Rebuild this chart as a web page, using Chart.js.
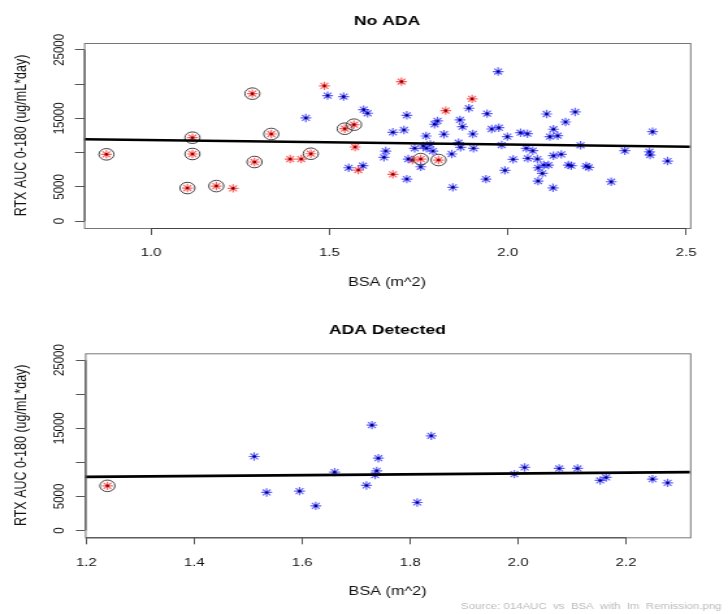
<!DOCTYPE html>
<html>
<head>
<meta charset="utf-8">
<script src="https://cdn.jsdelivr.net/npm/chart.js@4.4.0/dist/chart.umd.min.js"></script>
<style>
  body { margin: 0; background: #fff; }
</style>
</head>
<body>
<!-- drawn at 560 wide, shown at 728: the source image is stretched sideways -->
<canvas id="chartNoAda" width="560" height="307" style="width:728px;height:307px"></canvas>
<canvas id="chartAda" width="560" height="307" style="width:728px;height:307px"></canvas>
<script>
  // ---------------- data: No ADA ----------------
  const noAdaBlueBSA = [1.495, 1.540, 1.434, 1.596, 1.607, 1.678, 1.658, 1.653, 1.554, 1.594,
    1.973, 1.891, 1.942, 1.717, 1.866, 1.803, 1.795, 1.709, 1.873, 1.771,
    1.821, 1.902, 1.955, 1.975, 1.999, 2.036, 2.055, 2.109, 2.189, 2.162,
    2.128, 2.118, 2.140, 2.406, 1.739, 1.763, 1.783, 1.772, 1.790, 1.862,
    1.868, 1.904, 1.983, 1.843, 2.052, 2.070, 2.204, 2.328, 2.397, 2.399,
    1.721, 1.756, 1.717, 1.846, 1.939, 1.992, 2.015, 2.056, 2.083, 2.128,
    2.150, 2.085, 2.101, 2.114, 2.097, 2.085, 2.127, 2.170, 2.178, 2.220,
    2.227, 2.290, 2.448];
  const noAdaBlueAUC = [18320, 18170, 15060, 16270, 15750, 12970, 10230, 9310, 7790, 8090,
    21830, 16480, 15690, 15450, 14770, 14620, 14140, 13300, 13790, 12430,
    12680, 12720, 13450, 13640, 12330, 12910, 12760, 15640, 15940, 14470,
    13410, 12330, 12470, 13060, 10630, 10970, 11210, 10630, 10230, 11450,
    10780, 10630, 11110, 9800, 10630, 10280, 11070, 10280, 10130, 9650,
    9060, 7940, 6140, 4930, 6140, 7410, 9020, 9170, 9060, 9550,
    9750, 7790, 8190, 8190, 6970, 5850, 4870, 8190, 8090, 8040,
    7850, 5750, 8770];
  const noAdaRedBSA = [0.875, 1.116, 1.116, 1.102, 1.183, 1.284, 1.337, 1.290, 1.448, 1.543,
    1.569, 1.756, 1.806, 1.230, 1.390, 1.421, 1.486, 1.572, 1.581, 1.678,
    1.702, 1.900, 1.826, 1.733];
  const noAdaRedAUC = [9750, 12180, 9800, 4830, 5120, 18610, 12720, 8630, 9840, 13490,
    14080, 9060, 8920, 4780, 9060, 9060, 19740, 10820, 7460, 6830,
    20370, 17840, 16130, 8920];
  const noAdaRedCircled = [1, 1, 1, 1, 1, 1, 1, 1, 1, 1,
    1, 1, 1, 0, 0, 0, 0, 0, 0, 0,
    0, 0, 0, 0];
  const noAdaFitBSA = [0.812, 2.511];
  const noAdaFitAUC = [11950, 10860];
  const noAdaXTicks = [1.0, 1.5, 2.0, 2.5];

  // ---------------- data: ADA Detected ----------------
  const adaBlueBSA = [1.511, 1.534, 1.595, 1.625, 1.660, 1.729, 1.741, 1.738, 1.735, 1.719,
    1.839, 1.813, 1.993, 2.012, 2.076, 2.110, 2.152, 2.163, 2.249, 2.277];
  const adaBlueAUC = [10860, 5580, 5770, 3610, 8560, 15460, 10610, 8750, 8120, 6610,
    13890, 4110, 8270, 9250, 9100, 9100, 7340, 7780, 7530, 6990];
  const adaRedBSA = [1.239];
  const adaRedAUC = [6550];
  const adaRedCircled = [1];
  const adaFitBSA = [1.1975, 2.3185];
  const adaFitAUC = [7870, 8560];
  const adaXTicks = [1.2, 1.4, 1.6, 1.8, 2.0, 2.2];

  const yTicks = [0, 5000, 10000, 15000, 20000, 25000];
  const yTickLabels = ['0', '5000', '', '15000', '', '25000'];

  const FONT = "'Liberation Sans', Arial, sans-serif";

  function pts(xs, ys) {
    return xs.map((x, i) => ({ x: x, y: ys[i] }));
  }

  // axes, box, titles drawn R style
  const rAxes = {
    id: 'rAxes',
    afterDraw(chart, args, o) {
      const { ctx, chartArea: { top, bottom, left, right } } = chart;
      const xs = chart.scales.x, ys = chart.scales.y;
      ctx.save();
      ctx.strokeStyle = '#777';
      ctx.lineWidth = 1;
      ctx.strokeRect(left + 0.5, top + 0.5, right - left, bottom - top);
      ctx.strokeStyle = '#444';
      ctx.beginPath();
      ctx.moveTo(left + 0.5, ys.getPixelForValue(yTicks[0]));
      ctx.lineTo(left + 0.5, ys.getPixelForValue(yTicks[yTicks.length - 1]));
      ctx.moveTo(xs.getPixelForValue(o.xTicks[0]), bottom + 0.5);
      ctx.lineTo(xs.getPixelForValue(o.xTicks[o.xTicks.length - 1]), bottom + 0.5);
      ctx.stroke();

      ctx.fillStyle = '#111';
      ctx.textAlign = 'center';
      ctx.textBaseline = 'middle';
      ctx.font = '11.5px ' + FONT;
      o.xTicks.forEach(v => {
        ctx.fillText(v.toFixed(1), xs.getPixelForValue(v), o.xLabelY);
      });
      yTicks.forEach((v, i) => {
        if (!yTickLabels[i]) return;
        ctx.save();
        ctx.translate(45.4, ys.getPixelForValue(v));
        ctx.rotate(-Math.PI / 2);
        ctx.fillText(yTickLabels[i], 0, 0);
        ctx.restore();
      });

      const cx = (left + right) / 2;
      ctx.font = '12.5px ' + FONT;
      ctx.fillText('BSA (m^2)', cx, o.xTitleY);
      ctx.save();
      ctx.translate(17, (top + bottom) / 2);
      ctx.rotate(-Math.PI / 2);
      ctx.fillText('RTX AUC 0-180 (ug/mL*day)', 0, 0);
      ctx.restore();

      ctx.fillStyle = '#000';
      ctx.font = 'bold 13.5px ' + FONT;
      ctx.fillText(o.title, cx, o.titleY);

      if (o.source) {
        ctx.fillStyle = '#bbb';
        ctx.font = '8.8px ' + FONT;
        ctx.textAlign = 'right';
        ctx.fillText(o.source, 555, 300);
      }
      ctx.restore();
    }
  };

  function makePanel(id, p) {
    const circX = p.redX.filter((v, i) => p.circled[i]);
    const circY = p.redY.filter((v, i) => p.circled[i]);
    const config = {
      type: 'scatter',
      data: {
        datasets: [
          {
            label: 'fit', type: 'line', data: pts(p.fitX, p.fitY),
            borderColor: '#000', borderWidth: 2.6, pointRadius: 0, order: 0
          },
          {
            label: 'blue', data: pts(p.blueX, p.blueY), pointStyle: 'star',
            pointRadius: 4.2, borderColor: 'rgba(30,30,255,0.7)', borderWidth: 1.2, order: 4
          },
          {
            label: 'blue centre', data: pts(p.blueX, p.blueY), pointStyle: 'circle',
            pointRadius: 1.3, backgroundColor: '#00006e', borderWidth: 0, order: 3
          },
          {
            label: 'red', data: pts(p.redX, p.redY), pointStyle: 'star',
            pointRadius: 4.2, borderColor: 'rgba(255,30,30,0.7)', borderWidth: 1.2, order: 4
          },
          {
            label: 'red centre', data: pts(p.redX, p.redY), pointStyle: 'circle',
            pointRadius: 1.3, backgroundColor: '#800000', borderWidth: 0, order: 3
          },
          {
            label: 'circled', data: pts(circX, circY), pointStyle: 'circle',
            pointRadius: 5.8, backgroundColor: 'rgba(0,0,0,0)', borderColor: '#444', borderWidth: 1, order: 2
          }
        ]
      },
      options: {
        responsive: false,
        animation: false,
        events: [],
        layout: { padding: { left: 0, top: p.top, right: 560 - p.right, bottom: 0 } },
        plugins: {
          legend: { display: false },
          tooltip: { enabled: false },
          rAxes: { xTicks: p.xTicks, title: p.title, titleY: p.titleY, xLabelY: p.xLabelY, xTitleY: p.xTitleY, source: p.source }
        },
        scales: {
          x: {
            type: 'linear', min: p.xMin, max: p.xMax,
            afterBuildTicks: s => { s.ticks = p.xTicks.map(v => ({ value: v })); },
            afterFit: s => { s.height = 307 - p.bottom; },
            ticks: { display: false },
            border: { display: false },
            grid: { drawOnChartArea: false, drawTicks: true, tickLength: 7, color: '#555' }
          },
          y: {
            type: 'linear', min: -1000, max: 26000,
            afterBuildTicks: s => { s.ticks = yTicks.map(v => ({ value: v })); },
            afterFit: s => { s.width = p.left; },
            ticks: { display: false },
            border: { display: false },
            grid: { drawOnChartArea: false, drawTicks: true, tickLength: 7, color: '#555' }
          }
        }
      },
      plugins: [rAxes]
    };
    return new Chart(document.getElementById(id), config);
  }

  const chartNoAda = makePanel('chartNoAda', {
    blueX: noAdaBlueBSA, blueY: noAdaBlueAUC,
    redX: noAdaRedBSA, redY: noAdaRedAUC, circled: noAdaRedCircled,
    fitX: noAdaFitBSA, fitY: noAdaFitAUC, xTicks: noAdaXTicks,
    xMin: 0.812, xMax: 2.511,
    left: 64.6, right: 530.8, top: 43, bottom: 228,
    title: 'No ADA', titleY: 21, xLabelY: 252.5, xTitleY: 283
  });

  const chartAda = makePanel('chartAda', {
    blueX: adaBlueBSA, blueY: adaBlueAUC,
    redX: adaRedBSA, redY: adaRedAUC, circled: adaRedCircled,
    fitX: adaFitBSA, fitY: adaFitAUC, xTicks: adaXTicks,
    xMin: 1.1975, xMax: 2.3185,
    left: 65.4, right: 530.8, top: 46.3, bottom: 230.3,
    title: 'ADA Detected', titleY: 23.5, xLabelY: 255.5, xTitleY: 285,
    source: 'Source: 014AUC  vs  BSA  with  Im  Remission.png'
  });
</script>
</body>
</html>
